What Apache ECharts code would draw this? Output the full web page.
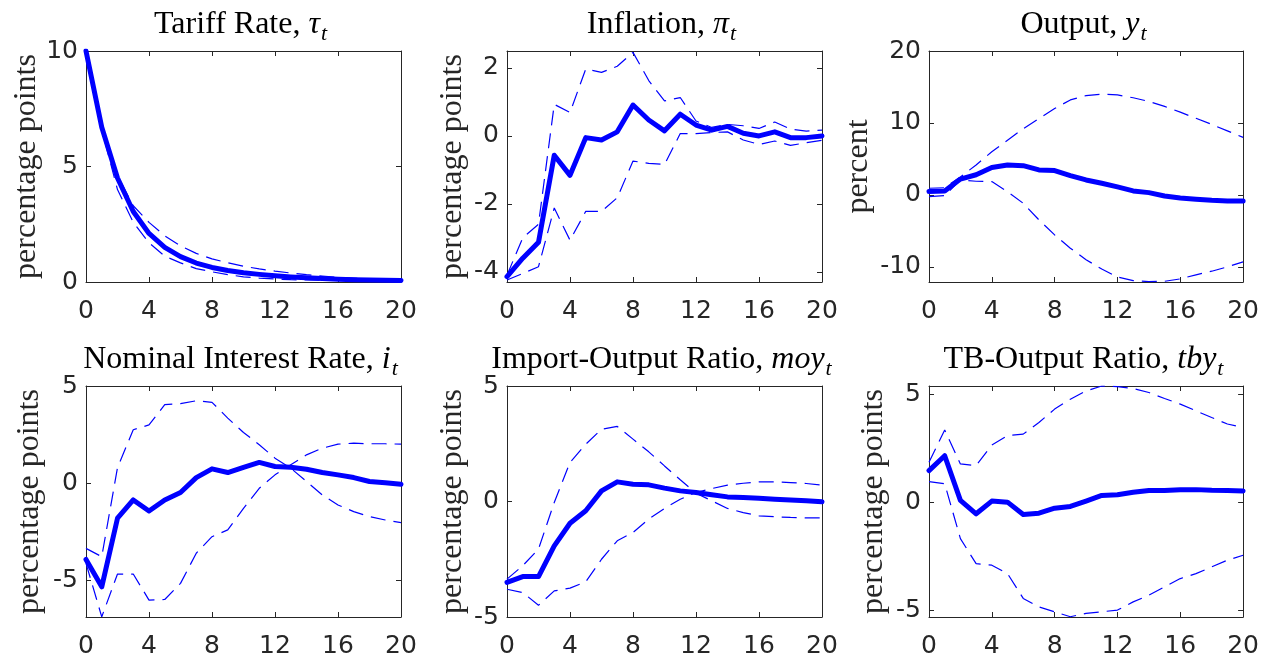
<!DOCTYPE html>
<html>
<head>
<meta charset="utf-8">
<script src="https://cdn.jsdelivr.net/npm/echarts@6/dist/echarts.min.js"></script>
<style>
  html, body { margin: 0; padding: 0; background: #ffffff; }
  #chart { width: 1262px; height: 659px; }
</style>
</head>
<body>
<div id="chart"></div>
<script>
// Impulse responses to a tariff shock: median (solid) and error bands (dashed), quarters 0..20
const horizon = [0, 1, 2, 3, 4, 5, 6, 7, 8, 9, 10, 11, 12, 13, 14, 15, 16, 17, 18, 19, 20];
const xTicks = [0, 4, 8, 12, 16, 20];

const tariffMean  = [10, 6.7, 4.5, 3.05, 2.1, 1.5, 1.1, 0.82, 0.63, 0.5, 0.4, 0.33, 0.27, 0.22, 0.18, 0.15, 0.12, 0.1, 0.09, 0.08, 0.07];
const tariffUpper = [10, 6.75, 4.6, 3.3, 2.58, 2.0, 1.56, 1.24, 1.0, 0.83, 0.68, 0.57, 0.47, 0.39, 0.32, 0.26, 0.2, 0.17, 0.14, 0.12, 0.1];
const tariffLower = [10, 6.6, 4.0, 2.58, 1.7, 1.12, 0.83, 0.58, 0.44, 0.32, 0.22, 0.17, 0.13, 0.1, 0.09, 0.08, 0.07, 0.06, 0.05, 0.05, 0.04];

const inflMean  = [-4.14, -3.6, -3.13, -0.57, -1.16, -0.05, -0.12, 0.12, 0.91, 0.47, 0.15, 0.64, 0.32, 0.17, 0.28, 0.08, 0.0, 0.12, -0.05, -0.05, 0.0];
const inflUpper = [-4.1, -3.0, -2.6, 0.93, 0.69, 1.97, 1.87, 2.05, 2.46, 1.63, 1.03, 1.13, 0.44, 0.25, 0.34, 0.3, 0.22, 0.41, 0.2, 0.14, 0.17];
const inflLower = [-4.24, -4.05, -3.85, -2.12, -3.07, -2.22, -2.22, -1.82, -0.74, -0.81, -0.84, 0.07, 0.07, 0.1, 0.12, -0.12, -0.25, -0.15, -0.28, -0.2, -0.13];

const outMean  = [0.46, 0.55, 2.2, 2.8, 3.8, 4.17, 4.07, 3.47, 3.38, 2.69, 2.08, 1.62, 1.11, 0.56, 0.32, -0.14, -0.42, -0.6, -0.74, -0.83, -0.83];
const outUpper = [0.93, 1.0, 2.5, 4.17, 6.0, 7.6, 9.2, 10.6, 12.0, 13.2, 13.8, 14.0, 13.9, 13.5, 13.0, 12.3, 11.5, 10.65, 9.8, 8.9, 8.0];
const outLower = [-0.23, -0.1, 2.1, 1.9, 1.85, 0.46, -1.16, -3.47, -5.56, -7.4, -9.0, -10.3, -11.4, -11.9, -12.05, -12.0, -11.67, -11.1, -10.6, -10.0, -9.3];

const rateMean  = [-3.92, -5.33, -1.8, -0.86, -1.43, -0.86, -0.48, 0.29, 0.74, 0.55, 0.82, 1.07, 0.86, 0.82, 0.72, 0.55, 0.43, 0.29, 0.09, 0.03, -0.05];
const rateBandA = [-3.35, -3.78, 0.8, 2.75, 3.0, 4.04, 4.09, 4.24, 4.16, 3.35, 2.61, 1.98, 1.29, 0.77, 0.09, -0.6, -1.12, -1.46, -1.72, -1.89, -2.03];
const rateBandB = [-4.12, -6.87, -4.67, -4.67, -6.01, -5.98, -5.15, -3.6, -2.75, -2.4, -1.29, -0.26, 0.43, 0.95, 1.46, 1.8, 2.01, 2.06, 2.03, 2.03, 2.01];

const moyMean  = [-3.5, -3.25, -3.25, -1.92, -0.94, -0.4, 0.46, 0.85, 0.75, 0.72, 0.58, 0.46, 0.39, 0.29, 0.2, 0.17, 0.14, 0.1, 0.07, 0.03, -0.01];
const moyBandA = [-3.36, -2.78, -2.06, -0.04, 1.69, 2.48, 3.13, 3.25, 2.7, 2.15, 1.54, 0.94, 0.36, 0.03, -0.3, -0.48, -0.62, -0.66, -0.69, -0.71, -0.71];
const moyBandB = [-3.8, -3.94, -4.49, -3.87, -3.75, -3.48, -2.5, -1.7, -1.34, -0.76, -0.3, 0.1, 0.39, 0.56, 0.71, 0.79, 0.85, 0.85, 0.82, 0.78, 0.71];

const tbyMean  = [1.46, 2.15, 0.08, -0.54, 0.05, 0.0, -0.57, -0.51, -0.28, -0.2, 0.05, 0.31, 0.34, 0.46, 0.54, 0.54, 0.57, 0.58, 0.55, 0.54, 0.52];
const tbyUpper = [1.85, 3.34, 1.77, 1.69, 2.65, 3.08, 3.15, 3.69, 4.31, 4.77, 5.15, 5.38, 5.35, 5.26, 5.08, 4.8, 4.54, 4.23, 3.92, 3.62, 3.46];
const tbyLower = [0.95, 0.85, -1.69, -2.85, -2.92, -3.31, -4.46, -4.85, -5.08, -5.31, -5.15, -5.08, -5.0, -4.62, -4.31, -3.92, -3.54, -3.31, -3.0, -2.69, -2.46];

const panels = [
  { name: 'Tariff Rate, ', sym: 'τ', yName: 'percentage points', mean: tariffMean, bands: [tariffUpper, tariffLower], yMin: 0, yMax: 10, yTicks: [0, 5, 10], gap: 41 },
  { name: 'Inflation, ', sym: 'π', yName: 'percentage points', mean: inflMean, bands: [inflUpper, inflLower], yMin: -4.3, yMax: 2.5, yTicks: [-4, -2, 0, 2], gap: 38 },
  { name: 'Output, ', sym: 'y', yName: 'percent', mean: outMean, bands: [outUpper, outLower], yMin: -12.1, yMax: 20, yTicks: [-10, 0, 10, 20], gap: 54 },
  { name: 'Nominal Interest Rate, ', sym: 'i', yName: 'percentage points', mean: rateMean, bands: [rateBandA, rateBandB], yMin: -6.88, yMax: 5, yTicks: [-5, 0, 5], gap: 40 },
  { name: 'Import-Output Ratio, ', sym: 'moy', yName: 'percentage points', mean: moyMean, bands: [moyBandA, moyBandB], yMin: -5, yMax: 5, yTicks: [-5, 0, 5], gap: 38 },
  { name: 'TB-Output Ratio, ', sym: 'tby', yName: 'percentage points', mean: tbyMean, bands: [tbyUpper, tbyLower], yMin: -5.32, yMax: 5.38, yTicks: [-5, 0, 5], gap: 39 }
];

// 2 x 3 layout of plot boxes
const colLeft = [86, 507, 929];
const rowTop = [51, 386];
const boxW = 315;
const boxH = [231, 232];
const titleTop = [9, 344];

const AXIS = '#262626';
const BLUE = '#0000ff';
const SERIF = '"Liberation Serif", "Times New Roman", serif';
const SANS = '"DejaVu Sans", "Liberation Sans", Arial, sans-serif';

const titleRich = {
  r: { fontFamily: SERIF, fontWeight: 'normal', fontSize: 32, color: '#000', verticalAlign: 'top', lineHeight: 34 },
  m: { fontFamily: SERIF, fontWeight: 'normal', fontStyle: 'italic', fontSize: 32, color: '#000', verticalAlign: 'top', lineHeight: 34 },
  s: { fontFamily: SERIF, fontWeight: 'normal', fontStyle: 'italic', fontSize: 22, color: '#000', verticalAlign: 'top', lineHeight: 22, padding: [14, 0, 0, 1] }
};

const grid = [], xAxis = [], yAxis = [], series = [], title = [];

panels.forEach((p, i) => {
  const r = Math.floor(i / 3), c = i % 3;
  grid.push({ left: colLeft[c], top: rowTop[r], width: boxW, height: boxH[r], containLabel: false });

  title.push({
    text: '{r|' + p.name + '}{m|' + p.sym + '}{s|t}',
    left: colLeft[c] + boxW / 2 - 3,
    top: titleTop[r],
    textAlign: 'center',
    padding: 0,
    textStyle: { fontWeight: 'normal', fontFamily: SERIF, fontSize: 32, rich: titleRich }
  });

  const xBase = {
    gridIndex: i, type: 'value', min: 0, max: 20, interval: 4,
    axisLine: { show: true, onZero: false, lineStyle: { color: AXIS, width: 1 } },
    axisTick: { show: true, inside: true, length: 5, lineStyle: { color: AXIS, width: 1 } },
    splitLine: { show: false }
  };
  xAxis.push(Object.assign({}, xBase, {
    position: 'bottom',
    axisLabel: { show: true, color: AXIS, fontFamily: SANS, fontSize: 25, margin: 17 }
  }));
  xAxis.push(Object.assign({}, xBase, { position: 'top', axisLabel: { show: false } }));

  const yBase = {
    gridIndex: i, type: 'value', min: p.yMin, max: p.yMax,
    axisLine: { show: true, onZero: false, lineStyle: { color: AXIS, width: 1 } },
    axisTick: { show: true, inside: true, length: 5, customValues: p.yTicks, lineStyle: { color: AXIS, width: 1 } },
    splitLine: { show: false }
  };
  yAxis.push(Object.assign({}, yBase, {
    position: 'left',
    axisLabel: { show: true, customValues: p.yTicks, color: AXIS, fontFamily: SANS, fontSize: 25, margin: 8 },
    name: p.yName,
    nameLocation: 'middle',
    nameRotate: 90,
    nameGap: p.gap,
    nameTextStyle: { fontFamily: SERIF, fontSize: 32, color: AXIS }
  }));
  yAxis.push(Object.assign({}, yBase, { position: 'right', axisLabel: { show: false } }));

  const toPairs = arr => horizon.map((h, k) => [h, arr[k]]);
  p.bands.forEach(band => {
    series.push({
      type: 'line', xAxisIndex: 2 * i, yAxisIndex: 2 * i,
      data: toPairs(band), symbol: 'none', smooth: false, silent: true,
      lineStyle: { color: BLUE, width: 1.2, type: [15, 8] }
    });
  });
  series.push({
    type: 'line', xAxisIndex: 2 * i, yAxisIndex: 2 * i,
    data: toPairs(p.mean), symbol: 'none', smooth: false, silent: true,
    lineStyle: { color: BLUE, width: 5, join: 'round', cap: 'round' }
  });
});

const chart = echarts.init(document.getElementById('chart'), null, { renderer: 'canvas' });
chart.setOption({
  backgroundColor: '#ffffff',
  animation: false,
  title: title,
  grid: grid,
  xAxis: xAxis,
  yAxis: yAxis,
  series: series
});
</script>
</body>
</html>
